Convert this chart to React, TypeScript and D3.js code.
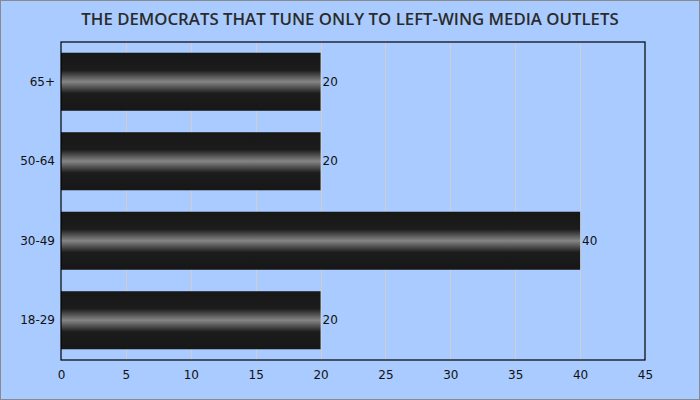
import { useEffect, useRef } from "react";
import * as d3 from "d3";

const categories = ["65+", "50-64", "30-49", "18-29"];
const values = [20, 20, 40, 20];
const xTicks = [0, 5, 10, 15, 20, 25, 30, 35, 40, 45];
const title = "THE DEMOCRATS THAT TUNE ONLY TO LEFT-WING MEDIA OUTLETS";

export default function App() {
  const svgRef = useRef<SVGSVGElement>(null);

  useEffect(() => {
    if (!svgRef.current) return;
    const svg = d3.select(svgRef.current);
    svg.selectAll("*").remove();

    const W = 700;
    const H = 400;
    const margin = { top: 42, right: 55, bottom: 40, left: 61 };
    const width = W - margin.left - margin.right;
    const height = H - margin.top - margin.bottom;

    svg
      .append("rect")
      .attr("x", 0.5)
      .attr("y", 0.5)
      .attr("width", W - 1)
      .attr("height", H - 1)
      .attr("fill", "#a9cbff")
      .attr("stroke", "#8a8a8a");

    const defs = svg.append("defs");
    const grad = defs
      .append("linearGradient")
      .attr("id", "barGrad")
      .attr("x1", 0)
      .attr("y1", 0)
      .attr("x2", 0)
      .attr("y2", 1);
    grad.append("stop").attr("offset", "0%").attr("stop-color", "#171717");
    grad.append("stop").attr("offset", "30%").attr("stop-color", "#1c1c1c");
    grad.append("stop").attr("offset", "50%").attr("stop-color", "#858585");
    grad.append("stop").attr("offset", "70%").attr("stop-color", "#1c1c1c");
    grad.append("stop").attr("offset", "100%").attr("stop-color", "#171717");

    svg
      .append("text")
      .attr("x", W / 2)
      .attr("y", 25)
      .attr("text-anchor", "middle")
      .attr("font-family", "'Open Sans', sans-serif")
      .attr("font-weight", 600)
      .attr("font-size", 16.8)
      .attr("fill", "#2b2b2b")
      .text(title);

    const g = svg
      .append("g")
      .attr("transform", `translate(${margin.left},${margin.top})`);

    const x = d3.scaleLinear().domain([0, 45]).range([0, width]);
    const y = d3
      .scaleBand<string>()
      .domain(categories)
      .range([0, height])
      .paddingInner(0.27)
      .paddingOuter(0.135);

    g.selectAll(".grid")
      .data(xTicks.slice(1, -1))
      .join("line")
      .attr("x1", (d) => Math.round(x(d)) + 0.5)
      .attr("x2", (d) => Math.round(x(d)) + 0.5)
      .attr("y1", 0)
      .attr("y2", height)
      .attr("stroke", "#cfcfcf")
      .attr("stroke-width", 1);

    g.selectAll(".bar")
      .data(values)
      .join("rect")
      .attr("x", x(0))
      .attr("y", (_, i) => y(categories[i])!)
      .attr("width", (d) => x(d) - x(0))
      .attr("height", y.bandwidth())
      .attr("fill", "url(#barGrad)");

    g.selectAll(".val")
      .data(values)
      .join("text")
      .attr("x", (d) => x(d) + 2)
      .attr("y", (_, i) => y(categories[i])! + y.bandwidth() / 2)
      .attr("dy", "0.35em")
      .attr("font-family", "Tahoma, 'DejaVu Sans', sans-serif")
      .attr("font-size", 12)
      .attr("fill", "#111")
      .text((d) => d);

    g.append("rect")
      .attr("x", 0)
      .attr("y", 0)
      .attr("width", width)
      .attr("height", height)
      .attr("fill", "none")
      .attr("stroke", "#000")
      .attr("stroke-width", 1.2);

    const xAxis = g
      .append("g")
      .attr("transform", `translate(0,${height})`)
      .call(d3.axisBottom(x).tickValues(xTicks).tickSize(0).tickPadding(10));
    xAxis.select(".domain").remove();
    xAxis
      .selectAll("text")
      .attr("font-family", "Tahoma, 'DejaVu Sans', sans-serif")
      .attr("font-size", 12)
      .attr("fill", "#111");

    const yAxis = g
      .append("g")
      .call(d3.axisLeft(y).tickSize(0).tickPadding(6));
    yAxis.select(".domain").remove();
    yAxis
      .selectAll("text")
      .attr("font-family", "Tahoma, 'DejaVu Sans', sans-serif")
      .attr("font-size", 12)
      .attr("fill", "#111");
  }, []);

  return (
    <svg
      ref={svgRef}
      width={700}
      height={400}
      style={{ position: "absolute", left: 0, top: 0, display: "block" }}
    />
  );
}
